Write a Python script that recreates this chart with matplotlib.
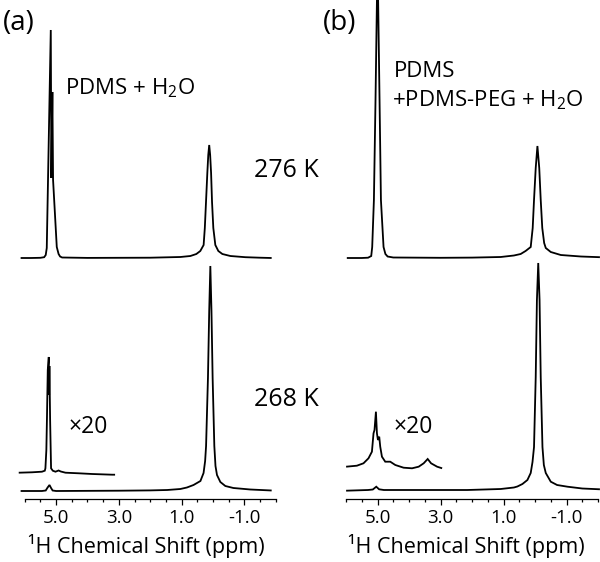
import matplotlib
matplotlib.use('Agg')
import matplotlib.pyplot as plt
from matplotlib.ticker import FixedLocator, FixedFormatter, NullLocator
import numpy as np

plt.rcParams['font.family'] = ['Open Sans', 'DejaVu Sans']
plt.rcParams['mathtext.fontset'] = 'custom'
plt.rcParams['mathtext.rm'] = 'Open Sans'
plt.rcParams['mathtext.it'] = 'Open Sans:italic'

# ---------------- data (ppm, intensity in a.u.) ----------------
# Panel (a): PDMS + H2O
a_276_ppm = [6.13, 5.80, 5.50, 5.38, 5.33, 5.297, 5.169, 5.150, 5.118, 5.096, 4.978, 4.92, 4.872,
             4.808, 4.0, 2.0, 1.04, 0.72, 0.53, 0.404, 0.298, 0.26, 0.222, 0.18, 0.15, 0.12, 0.09,
             0.06, 0.030, -0.011, -0.075, -0.171, -0.299, -0.554, -1.033, -1.50, -1.87]
a_276_int = [0, 0, 0.2, 0.8, 3, 10, 228, 80, 166, 78, 11, 4, 1.5,
             0.5, 0.1, 0.3, 1, 2, 4, 7, 13, 30, 56, 85, 103, 113, 103,
             85, 56, 30, 13, 7, 4, 2, 0.8, 0.3, 0]

a_268_ppm = [6.13, 5.45, 5.33, 5.27, 5.21, 5.16, 5.11, 5.0, 3.0, 2.0, 1.46, 1.04, 0.83, 0.62,
             0.40, 0.30, 0.25, 0.22, 0.16, 0.12, 0.084, 0.048, 0.011, -0.043, -0.08, -0.128,
             -0.235, -0.394, -0.65, -1.19, -1.87]
a_268_int = [0, 0, 0.5, 3.5, 6, 3, 0.5, 0, 0.3, 0.6, 1, 2, 3.5, 6,
             10, 18, 30, 45, 113, 180, 225, 180, 113, 45, 25, 16,
             9, 5, 3, 1.5, 0.5]

a_268x20_ppm = [6.19, 5.77, 5.45, 5.36, 5.34, 5.31, 5.29, 5.265, 5.233, 5.222, 5.213, 5.19, 5.16,
                5.105, 5.02, 4.92, 4.85, 4.70, 4.275, 3.85, 3.21, 3.12]
a_268x20_int = [-0.7, -0.3, 0.3, 1.3, 3.7, 22, 55, 102, 115, 77, 106, 52, 3.7,
                1.3, 0.3, 1.5, 0.5, -0.7, -1.3, -2, -2.7, -2.7]

# Panel (b): PDMS + PDMS-PEG + H2O
b_276_ppm = [5.975, 5.50, 5.30, 5.20, 5.169, 5.115, 5.064, 5.000, 4.936, 4.892,
             4.809, 4.75, 4.68, 4.50, 3.00, 2.00, 1.09, 0.67, 0.456, 0.30,
             0.137, 0.074, 0.032, -0.022, -0.076, -0.134, -0.181, -0.23, -0.29, -0.341,
             -0.50, -0.818, -1.456, -2.06]
b_276_int = [0, 0, 0.3, 2, 11, 58, 158, 300, 158, 58,
             11, 4, 1.5, 0.5, 0.2, 0.4, 1, 2.5, 4, 7,
             11, 30, 58, 90, 112, 90, 58, 30, 15, 10,
             6, 3, 1.5, 0.8]

b_268_ppm = [5.997, 5.30, 5.15, 5.04, 4.95, 4.80, 4.28, 2.15, 1.09, 0.67, 0.56, 0.40, 0.242,
             0.137, 0.08, 0.032, -0.022, -0.06, -0.102, -0.144, -0.181, -0.236, -0.28, -0.341,
             -0.50, -0.70, -1.03, -1.50, -2.06]
b_268_int = [-0.7, 0, 0.5, 3.3, 0.7, 0, 0, 0, 1, 2.5, 3.5, 6, 10,
             17, 28, 43, 113, 190, 227, 190, 113, 43, 25, 17,
             8.3, 5, 3.3, 1.5, 0.7]

b_268x20_ppm = [5.997, 5.656, 5.446, 5.287, 5.178, 5.127, 5.096, 5.051, 5.019, 4.987, 4.946,
                4.914, 4.860, 4.755, 4.596, 4.436, 4.172, 3.904, 3.694, 3.535, 3.408, 3.300,
                3.108, 2.949]
b_268x20_int = [0.3, 1.3, 3.7, 8.7, 15.3, 33.7, 37, 55.3, 33.7, 27, 30.3,
                20.3, 10.3, 5.3, 5.3, 2, -0.7, -1.3, 0.3, 3.7, 8, 3.7,
                0.3, -1.3]

major_ticks = [5.0, 3.0, 1.0, -1.0]
major_labels = ['5.0', '3.0', '1.0', '-1.0']
temperatures = ['276 K', '268 K']
xlabel = '\u00b9H Chemical Shift (ppm)'

# ---------------- layout ----------------
W, H = 600, 562
fig = plt.figure(figsize=(W / 100, H / 100), dpi=100)


def px_axes(left, right, bottom, top):
    return fig.add_axes([left / W, 1 - bottom / H, (right - left) / W, (bottom - top) / H])


def ftext(x, y, s, **kw):
    fig.text(x / W, 1 - y / H, s, **kw)


LW = 1.3
panels = [
    (px_axes(17.8, 277.3, 499, 0),
     [(a_276_ppm, a_276_int, 241), (a_268_ppm, a_268_int, 8), (a_268x20_ppm, a_268x20_int, 27)]),
    (px_axes(339.1, 599.6, 499, 0),
     [(b_276_ppm, b_276_int, 241), (b_268_ppm, b_268_int, 9), (b_268x20_ppm, b_268x20_int, 32)]),
]

for ax, traces in panels:
    for ppm, inten, off in traces:
        ax.plot(ppm, np.asarray(inten) + off, color='black', lw=LW,
                solid_joinstyle='miter', solid_capstyle='butt')
    ax.set_xlim(6.22, -2.05)
    ax.set_ylim(0, 499)
    for s in ['top', 'left', 'right']:
        ax.spines[s].set_visible(False)
    ax.spines['bottom'].set_bounds(-2.0, 6.0)
    ax.spines['bottom'].set_linewidth(0.9)
    ax.xaxis.set_major_locator(FixedLocator(major_ticks))
    ax.xaxis.set_major_formatter(FixedFormatter(major_labels))
    ax.xaxis.set_minor_locator(FixedLocator([v for v in np.arange(-2.0, 6.01, 0.5)
                                             if v not in major_ticks]))
    ax.yaxis.set_major_locator(NullLocator())
    ax.tick_params(axis='x', which='major', direction='out', length=4.5, width=0.9,
                   labelsize=13.5, pad=3)
    ax.tick_params(axis='x', which='minor', direction='out', length=2.3, width=0.9)
    ax.patch.set_alpha(0)

# labels
ftext(3, 30, '(a)', fontsize=20, ha='left', va='baseline')
ftext(323, 30, '(b)', fontsize=20, ha='left', va='baseline')
ftext(65, 94.3, r'PDMS + H$_2$O', fontsize=16, ha='left', va='baseline')
ftext(394, 77.3, 'PDMS', fontsize=16, ha='left', va='baseline')
ftext(392, 106, r'+PDMS-PEG + H$_2$O', fontsize=16, ha='left', va='baseline')
ftext(254, 176.7, temperatures[0], fontsize=18, ha='left', va='baseline')
ftext(254, 406, temperatures[1], fontsize=18, ha='left', va='baseline')
ftext(69, 432.7, '\u00d720', fontsize=16.5, ha='left', va='baseline')
ftext(394, 432.7, '\u00d720', fontsize=16.5, ha='left', va='baseline')
ftext(146, 553, xlabel, fontsize=15.5, ha='center', va='baseline')
ftext(466, 553, xlabel, fontsize=15.5, ha='center', va='baseline')

fig.savefig('out.png', dpi=100)
